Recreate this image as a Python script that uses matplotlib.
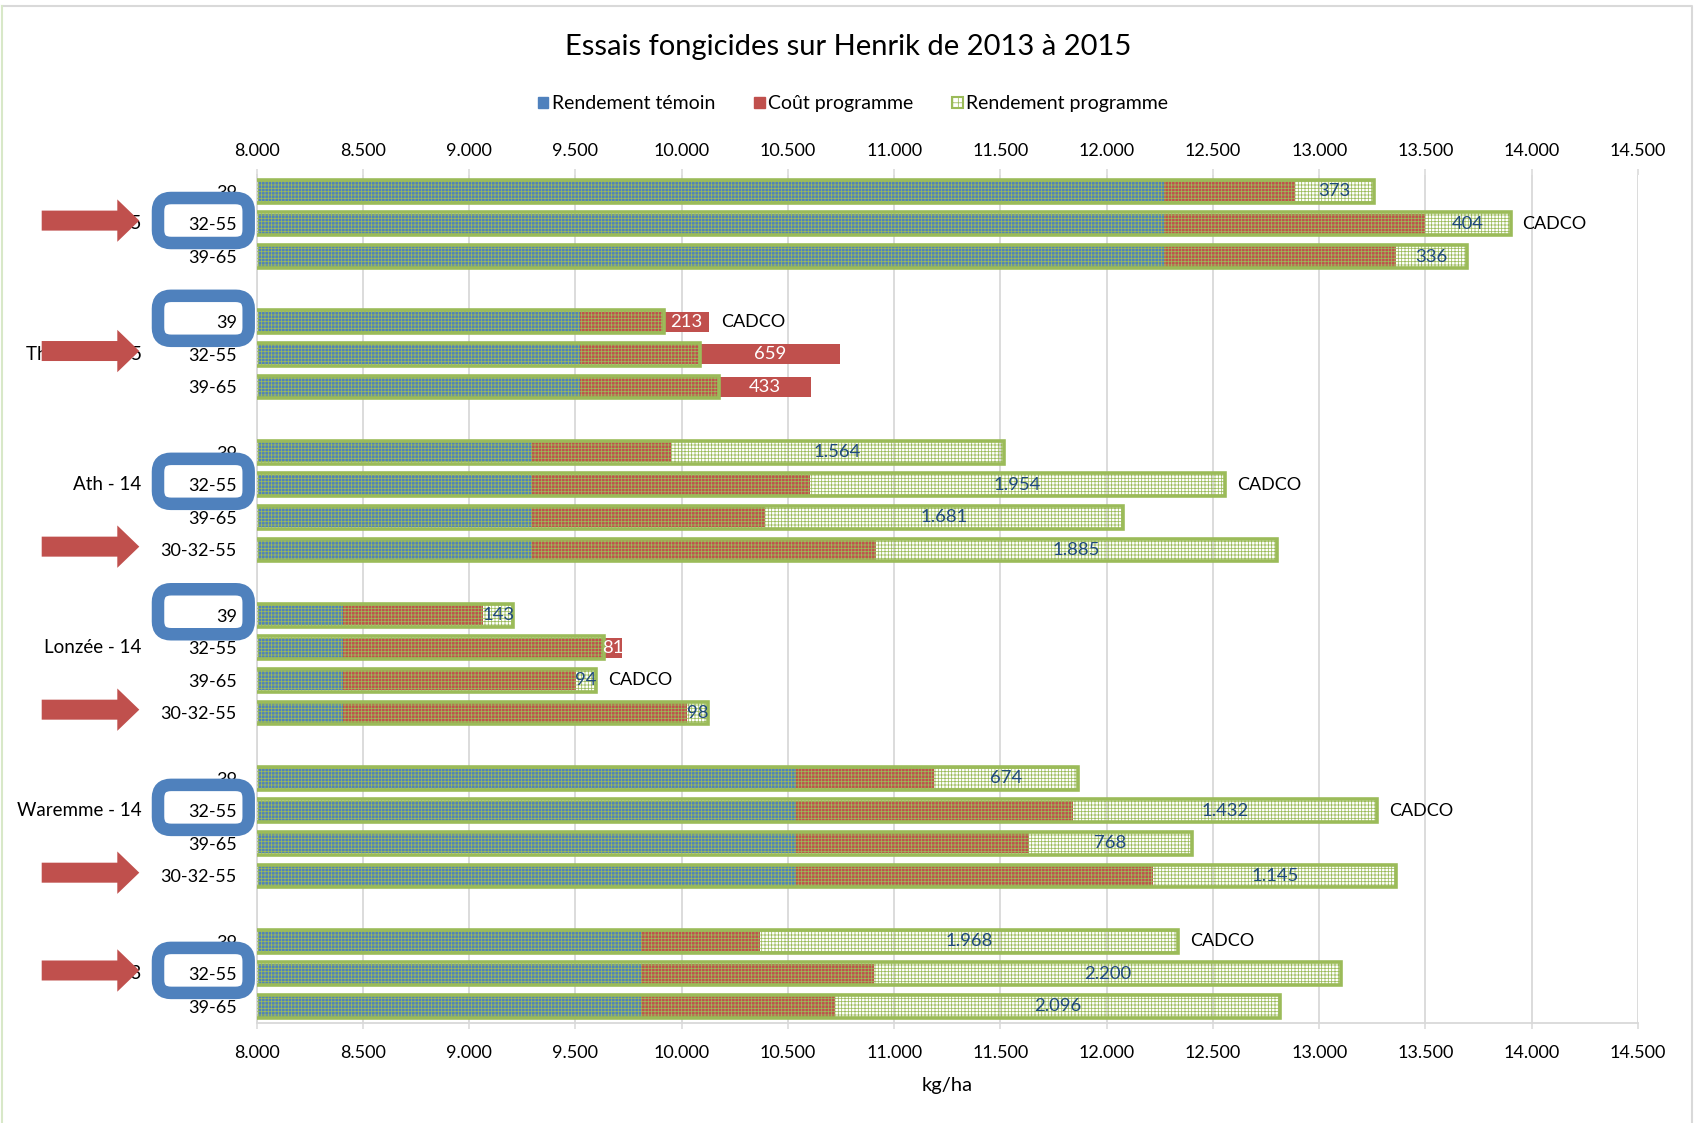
import matplotlib
matplotlib.use("Agg")
import matplotlib.pyplot as plt
from matplotlib.patches import Patch, Polygon, FancyBboxPatch
from matplotlib.ticker import FixedLocator, FuncFormatter
from matplotlib.transforms import Affine2D
from matplotlib.lines import Line2D

# ---------------- data ----------------
sites = ["Ath - 15", "Thimister - 15", "Ath - 14", "Lonzée - 14", "Waremme - 14", "Ath - 13"]
n_per_site = [3, 3, 4, 4, 4, 3]
programmes = ["39", "32-55", "39-65",
              "39", "32-55", "39-65",
              "39", "32-55", "39-65", "30-32-55",
              "39", "32-55", "39-65", "30-32-55",
              "39", "32-55", "39-65", "30-32-55",
              "39", "32-55", "39-65"]
rendement_temoin_site = [12269, 9523, 9294, 8408, 10537, 9808]
cout_programme = [616, 1228, 1090,
                  606, 1223, 1085,
                  657, 1309, 1100, 1620,
                  657, 1309, 1095, 1619,
                  652, 1304, 1095, 1681,
                  560, 1095, 912]
gain_net = [373, 404, 336,
            -213, -659, -433,
            1564, 1954, 1681, 1885,
            143, -81, 94, 98,
            674, 1432, 768, 1145,
            1968, 2200, 2096]
cadco_row = [1, 0, 1, 2, 1, 0]     # row (within site) labelled CADCO
box_row = [1, 0, 1, 0, 1, 1]       # row (within site) circled in blue
arrow_row = [1, 1, 3, 3, 3, 1]     # row (within site) marked by an arrow
x_ticks = [8000, 8500, 9000, 9500, 10000, 10500, 11000, 11500,
           12000, 12500, 13000, 13500, 14000, 14500]

# ---------------- derived ----------------
positions, temoin, site_index, row_in_site = [], [], [], []
p = 0
for s, n in enumerate(n_per_site):
    for r in range(n):
        positions.append(p + r)
        temoin.append(rendement_temoin_site[s])
        site_index.append(s)
        row_in_site.append(r)
    p += n + 1
last_pos = positions[-1]
rendement_prog = [t + c + g for t, c, g in zip(temoin, cout_programme, gain_net)]
fin_cout = [t + c for t, c in zip(temoin, cout_programme)]

BLUE = "#4F81BD"
RED = "#C0504D"
GREEN = "#9BBB59"
DARKBLUE = "#1F497D"
GRID = "#D9D9D9"

plt.rcParams["font.family"] = ["Lato", "DejaVu Sans"]
plt.rcParams["hatch.linewidth"] = 0.55

W, H = 1696, 1123
fig = plt.figure(figsize=(W / 100, H / 100), dpi=100)
ax_left, ax_right, ax_top, ax_bottom = 256.7, 1638.0, 175.0, 1022.7
ax = fig.add_axes([ax_left / W, 1 - ax_bottom / H, (ax_right - ax_left) / W, (ax_bottom - ax_top) / H])

ax.set_xlim(x_ticks[0], x_ticks[-1])
ax.set_ylim(last_pos + 0.5, -0.5)

# bars
ax.barh(positions, temoin, height=0.62, color=BLUE, zorder=2)
ax.barh(positions, cout_programme, left=temoin, height=0.62, color=RED, zorder=2)
ax.barh(positions, rendement_prog, height=0.70, facecolor="none", edgecolor=GREEN,
        hatch="+++++", linewidth=2.6, zorder=3)

# value labels
fs_num = 13.3
fs_tick = 13
fs_txt = 13.5
for y, fc, rp, g in zip(positions, fin_cout, rendement_prog, gain_net):
    xc = (fc + rp) / 2
    col = DARKBLUE if g >= 0 else "white"
    ax.text(xc, y, f"{abs(g):,.0f}".replace(",", "."), ha="center", va="center",
            fontsize=fs_num, color=col, zorder=5)

# CADCO labels
for y, fc, rp, s, r in zip(positions, fin_cout, rendement_prog, site_index, row_in_site):
    if cadco_row[s] == r:
        ax.annotate("CADCO", xy=(max(fc, rp), y), xytext=(8.5, 0), textcoords="offset points",
                    ha="left", va="center", fontsize=13, color="black", zorder=5)

# axes styling
fmt = FuncFormatter(lambda v, _: f"{v:,.0f}".replace(",", "."))
ax.xaxis.set_major_locator(FixedLocator(x_ticks))
ax.xaxis.set_major_formatter(fmt)
ax.tick_params(axis="x", top=False, labeltop=False, bottom=True, labelbottom=True,
               length=4.3, width=1.1, color=GRID, labelsize=fs_tick, pad=12)
sec = ax.secondary_xaxis("top")
sec.xaxis.set_major_locator(FixedLocator(x_ticks))
sec.xaxis.set_major_formatter(fmt)
sec.tick_params(axis="x", length=4.3, width=1.1, color=GRID, labelsize=fs_tick, pad=7.4)
sec.spines["top"].set_visible(False)
ax.set_yticks(positions, labels=programmes)
ax.tick_params(axis="y", length=0, pad=14.4, labelsize=fs_tick)
ax.grid(axis="x", color=GRID, linewidth=1.3, zorder=0)
ax.set_axisbelow(True)
for side in ["top", "right"]:
    ax.spines[side].set_visible(False)
for side in ["left", "bottom"]:
    ax.spines[side].set_color(GRID)
    ax.spines[side].set_linewidth(1.3)

# site labels
for s, n in enumerate(n_per_site):
    idx = [i for i in range(len(positions)) if site_index[i] == s][1]
    ax.text(-0.0833, positions[idx], sites[s], transform=ax.get_yaxis_transform(),
            ha="right", va="center", fontsize=fs_txt)

# title, legend, x label
fig.text(848 / W, 1 - 47 / H, "Essais fongicides sur Henrik de 2013 à 2015",
         ha="center", va="center", fontsize=21)
handles = [Patch(facecolor=BLUE, edgecolor=BLUE),
           Patch(facecolor=RED, edgecolor=RED),
           Patch(facecolor="white", edgecolor=GREEN, hatch="+++", linewidth=1.5)]
fig.legend(handles, ["Rendement témoin", "Coût programme", "Rendement programme"],
           loc="center", bbox_to_anchor=(853 / W, 1 - 103.8 / H), ncol=3, frameon=False,
           fontsize=14, handlelength=0.55, handleheight=0.55, handletextpad=0.18,
           columnspacing=2.0)
fig.text(947 / W, 1 - 1086 / H, "kg/ha", ha="center", va="center", fontsize=14.5)

# overlay annotations (arrows and rounded boxes), in pixel units
pix = Affine2D().scale(1 / W, 1 / H) + fig.transFigure
for i, (y, s, r) in enumerate(zip(positions, site_index, row_in_site)):
    yd = ax.transData.transform((x_ticks[0], y))[1]
    if arrow_row[s] == r:
        c = yd + 3.3
        pts = [(41.7, c - 10), (117.3, c - 10), (117.3, c - 21.2), (139.3, c),
               (117.3, c + 21.2), (117.3, c + 10), (41.7, c + 10)]
        fig.add_artist(Polygon(pts, closed=True, facecolor=RED, edgecolor="none",
                               transform=pix, zorder=10))
    if box_row[s] == r:
        c = yd + 3.4
        fig.add_artist(FancyBboxPatch((158, c - 22.5), 90.7, 45,
                                      boxstyle="round,pad=0,rounding_size=13",
                                      facecolor="none", edgecolor=BLUE, linewidth=9,
                                      transform=pix, zorder=10))

# figure frame
fig.add_artist(Line2D([1.5, 1692, 1692], [H - 5.5, H - 5.5, 0], color=GRID, linewidth=1.5,
                      transform=pix, zorder=11))
fig.add_artist(Line2D([1.5, 1.5], [0, H - 5.5], color="#D8E8C8", linewidth=1.5,
                      transform=pix, zorder=11))

fig.savefig("out.png", dpi=100)
